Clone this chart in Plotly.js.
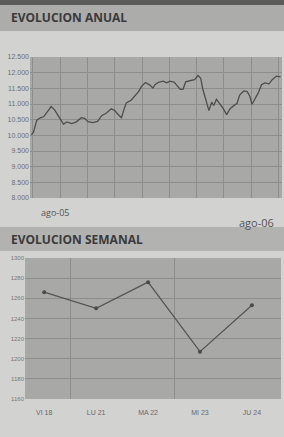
<!DOCTYPE html>
<html><head><meta charset="utf-8">
<script src="https://cdn.plot.ly/plotly-3.0.1.min.js"></script>
<style>html,body{margin:0;padding:0;background:#d2d2d0;}#c{width:284px;height:437px;}</style>
</head><body><div id="c"></div>
<script>
// Annual series (ago-05 .. ago-06)
const annualDates = ['2005-08-02','2005-08-05','2005-08-10','2005-08-15','2005-08-20','2005-08-25','2005-08-31','2005-09-05','2005-09-08','2005-09-13','2005-09-18','2005-09-23','2005-09-30','2005-10-07','2005-10-14','2005-10-19','2005-10-24','2005-10-31','2005-11-07','2005-11-13','2005-11-20','2005-11-27','2005-12-02','2005-12-07','2005-12-12','2005-12-16','2005-12-19','2005-12-26','2006-01-01','2006-01-06','2006-01-10','2006-01-16','2006-01-22','2006-01-27','2006-01-30','2006-02-04','2006-02-11','2006-02-16','2006-02-21','2006-02-27','2006-03-03','2006-03-08','2006-03-12','2006-03-16','2006-03-22','2006-03-29','2006-04-03','2006-04-07','2006-04-10','2006-04-13','2006-04-16','2006-04-19','2006-04-23','2006-04-26','2006-04-30','2006-05-05','2006-05-10','2006-05-15','2006-05-20','2006-05-25','2006-05-30','2006-06-03','2006-06-09','2006-06-14','2006-06-18','2006-06-21','2006-06-25','2006-06-30','2006-07-05','2006-07-10','2006-07-16','2006-07-21','2006-07-27','2006-08-02'];
const annualValues = [10020,10090,10484,10560,10592,10757,10919,10814,10710,10497,10360,10427,10375,10430,10563,10542,10437,10408,10442,10626,10712,10845,10792,10665,10560,10851,11036,11119,11252,11394,11556,11686,11612,11509,11614,11692,11727,11675,11731,11700,11592,11469,11470,11705,11742,11775,11908,11820,11479,11269,11002,10790,11058,10953,11148,11008,10850,10659,10852,10940,11015,11286,11416,11398,11239,10991,11134,11347,11617,11673,11642,11784,11891,11864];
const annualTickVals = [8000,8500,9000,9500,10000,10500,11000,11500,12000,12500];
const annualTickText = ['8.000','8.500','9.000','9.500','10.000','10.500','11.000','11.500','12.000','12.500'];
const annualStartLabel = 'ago-05';
const annualEndLabel = 'ago-06';

// Weekly series
const weekDays = ['VI 18','LU 21','MA 22','MI 23','JU 24'];
const weekValues = [1266,1250,1276,1207,1253];
const weekTickVals = [1160,1180,1200,1220,1240,1260,1280,1300];

const W = 284, H = 437;
const px = x => x / W;
const py = y => 1 - y / H;

const traces = [
  {x: annualDates, y: annualValues, xaxis: 'x', yaxis: 'y', type: 'scatter', mode: 'lines',
   line: {color: '#4e4e4e', width: 1.3}, hoverinfo: 'skip'},
  {x: weekDays.map((_, i) => i), y: weekValues, xaxis: 'x2', yaxis: 'y2', type: 'scatter', mode: 'lines+markers',
   line: {color: '#555555', width: 1.3}, marker: {color: '#4a4a4a', size: 4}, hoverinfo: 'skip'}
];

const gridC = '#8d8d8b';
const layout = {
  width: W, height: H, margin: {l: 0, r: 0, t: 0, b: 0},
  paper_bgcolor: '#d2d2d0', plot_bgcolor: '#a8a8a6', showlegend: false,
  font: {family: 'Open Sans, sans-serif', color: '#666'},
  xaxis: {domain: [px(30), px(282)], anchor: 'y', type: 'date',
    range: ['2005-07-31', '2006-08-04'], tick0: '2006-01-11', dtick: 40 * 86400000,
    showgrid: true, gridcolor: gridC, gridwidth: 1, showticklabels: false, ticks: '', zeroline: false, showline: false},
  yaxis: {domain: [py(198), py(57)], anchor: 'x', range: [8000, 12500],
    tickvals: annualTickVals, ticktext: annualTickText, tickfont: {size: 7, color: '#6e6e6e', family: 'Liberation Sans Narrow, Arial Narrow, sans-serif'},
    showgrid: true, gridcolor: gridC, gridwidth: 1, zeroline: false, ticks: '', ticklen: 0, showline: false},
  xaxis2: {domain: [px(25), px(281)], anchor: 'y2', range: [-0.37, 4.56],
    tickvals: weekDays.map((_, i) => i), ticktext: weekDays,
    tickfont: {size: 7, color: '#6a6a6a', family: 'Liberation Sans Narrow, Arial Narrow, sans-serif'},
    showgrid: false, zeroline: false, ticks: '', ticklen: 12, ticklabelstandoff: 8, showline: false},
  xaxis3: {overlaying: 'x2', anchor: 'y2', range: [-0.37, 4.56], tickvals: [0.5, 2.5],
    showgrid: true, gridcolor: gridC, showticklabels: false, ticks: '', zeroline: false},
  yaxis2: {domain: [py(399), py(258)], anchor: 'x2', range: [1160, 1300],
    tickvals: weekTickVals, tickfont: {size: 6, color: '#777', family: 'Liberation Sans Narrow, Arial Narrow, sans-serif'},
    showgrid: true, gridcolor: gridC, zeroline: false, ticks: '', showline: false},
  shapes: [
    {type: 'rect', xref: 'paper', yref: 'paper', x0: 0, x1: 1, y0: py(5), y1: 1, fillcolor: '#5c5c5a', line: {width: 0}, layer: 'below'},
    {type: 'rect', xref: 'paper', yref: 'paper', x0: 0, x1: 1, y0: py(31), y1: py(5), fillcolor: '#acacaa', line: {width: 0}, layer: 'below'},
    {type: 'rect', xref: 'paper', yref: 'paper', x0: 0, x1: 1, y0: py(251), y1: py(227), fillcolor: '#b2b2b0', line: {width: 0}, layer: 'below'}
  ],
  annotations: [
    {text: '<b>EVOLUCION ANUAL</b>', xref: 'paper', yref: 'paper', x: px(9), y: py(18), xanchor: 'left', yanchor: 'middle', showarrow: false,
     font: {family: 'Open Sans, sans-serif', size: 12, color: '#3a3a3a'}},
    {text: '<b>EVOLUCION SEMANAL</b>', xref: 'paper', yref: 'paper', x: px(9), y: py(239), xanchor: 'left', yanchor: 'middle', showarrow: false,
     font: {family: 'Open Sans, sans-serif', size: 12, color: '#3a3a3a'}},
    {text: annualStartLabel, xref: 'paper', yref: 'paper', x: px(55), y: py(212), xanchor: 'center', yanchor: 'middle', showarrow: false,
     font: {family: 'Open Sans, sans-serif', size: 9, color: '#555'}},
    {text: annualEndLabel, xref: 'paper', yref: 'paper', x: px(256), y: py(222), xanchor: 'center', yanchor: 'middle', showarrow: false,
     font: {family: 'Open Sans, sans-serif', size: 11, color: '#555'}}
  ]
};

traces.push({x: [0], y: [1160], xaxis: 'x3', yaxis: 'y2', type: 'scatter', mode: 'markers', marker: {opacity: 0}, hoverinfo: 'skip'});

Plotly.newPlot('c', traces, layout, {staticPlot: true, displayModeBar: false});
</script></body></html>
